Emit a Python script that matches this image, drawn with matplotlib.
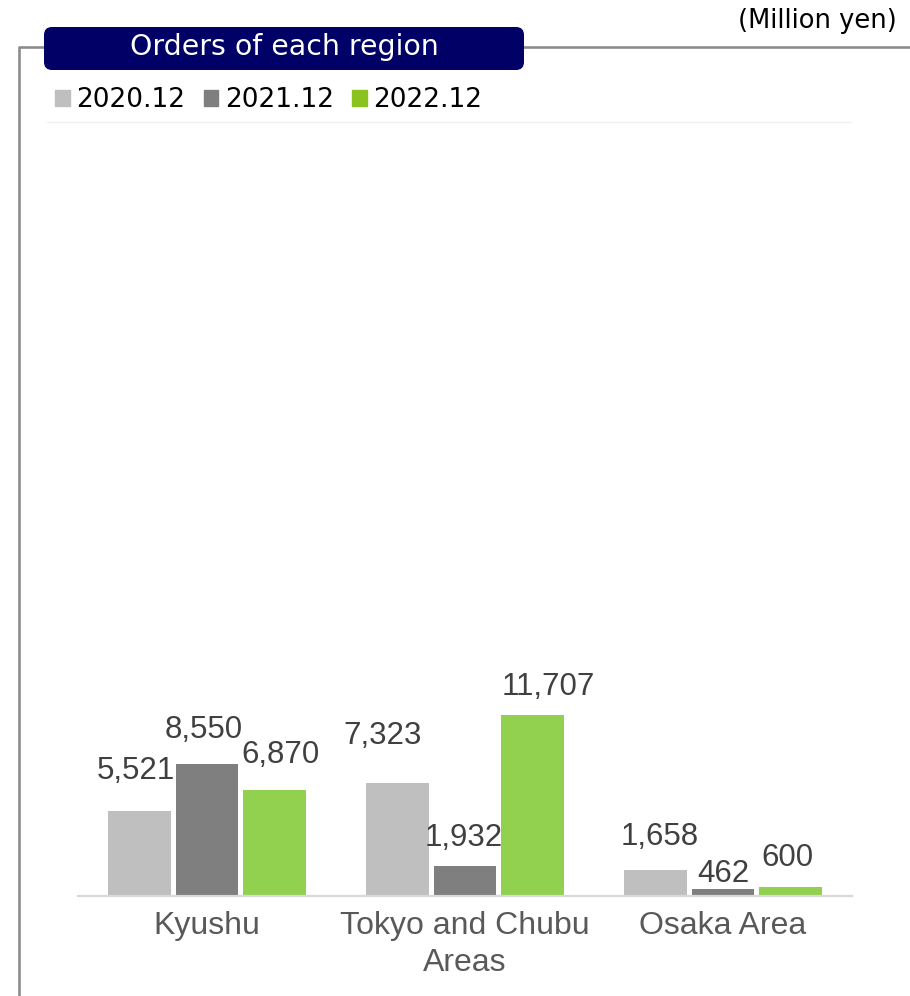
import numpy as np
import matplotlib
matplotlib.use('Agg')
import matplotlib.pyplot as plt
from matplotlib.patches import FancyBboxPatch, Rectangle
from matplotlib.lines import Line2D

regions = ['Kyushu', 'Tokyo and Chubu\nAreas', 'Osaka Area']
periods = ['2020.12', '2021.12', '2022.12']
orders_2020 = [5521, 7323, 1658]
orders_2021 = [8550, 1932, 462]
orders_2022 = [6870, 11707, 600]

colors = ['#bfbfbf', '#7f7f7f', '#92d050']
legend_colors = ['#bfbfbf', '#7f7f7f', '#8cc21f']

# label nudges (dx, dy) in pixels, to mimic the hand-placed labels
nudges = [[(-4, 32), (-3, 26), (6, 27)],
          [(-15, 39), (-1, 20), (16, 20)],
          [(4, 25), (0, 7), (-3, 21)]]

W, H = 910, 996
fig = plt.figure(figsize=(W / 100, H / 100), dpi=100)
ax = fig.add_axes([78 / W, 1 - 896 / H, (852 - 78) / W, (896 - 122) / H])

x = np.arange(len(regions))
step = 0.26
width = 0.244
series = [orders_2020, orders_2021, orders_2022]
for i, vals in enumerate(series):
    xs = x + (i - 1) * step
    ax.bar(xs, vals, width=width, color=colors[i], zorder=2)
    for j, v in enumerate(vals):
        dx, dy = nudges[j][i]
        ax.annotate(f'{v:,}', (xs[j], v), xytext=(dx * 0.72, dy * 0.72),
                    textcoords='offset points', ha='center', va='baseline',
                    fontsize=22.5, color='#404040', family='Liberation Sans')

ax.set_xlim(-0.5, 2.5)
ax.set_ylim(0, 50000)
ax.set_yticks([])
ax.set_xticks(x)
ax.set_xticklabels(regions, fontsize=23, color='#595959', family='Liberation Sans',
                   linespacing=1.3)
ax.tick_params(axis='x', length=0, pad=11)
for s in ['top', 'left', 'right']:
    ax.spines[s].set_visible(False)
ax.spines['bottom'].set_color('#d9d9d9')
ax.spines['bottom'].set_linewidth(1.6)

# outer frame line (top and left)
fig.add_artist(Line2D([1.0, 19 / W, 19 / W], [1 - 47 / H, 1 - 47 / H, 0],
                      transform=fig.transFigure, color='#8c8c8c', lw=1.9))
# faint separator under the legend
fig.add_artist(Line2D([47 / W, 851 / W], [1 - 122 / H, 1 - 122 / H],
                      transform=fig.transFigure, color='#f0f0f0', lw=1.0))

# title box
box = FancyBboxPatch((0.44, (H - 70) / 100), 4.80, 0.43,
                     boxstyle='round,pad=0,rounding_size=0.08',
                     transform=fig.dpi_scale_trans, facecolor='#000066',
                     edgecolor='none', zorder=5)
fig.add_artist(box)
fig.text(284 / W, 1 - 47 / H, 'Orders of each region', ha='center', va='center',
         fontsize=20.4, color='white', family='DejaVu Sans', zorder=6)

fig.text(897 / W, 1 - 21 / H, '(Million yen)', ha='right', va='center',
         fontsize=18.5, color='black', family='DejaVu Sans')

handles = [Rectangle((0, 0), 1, 1, color=c) for c in legend_colors]
fig.legend(handles, periods, loc='center left', bbox_to_anchor=(55 / W, 1 - 100 / H),
           bbox_transform=fig.transFigure, ncol=3, frameon=False,
           prop={'family': 'DejaVu Sans', 'size': 19},
           handlelength=0.55, handleheight=0.55, handletextpad=0.25,
           columnspacing=0.7, borderpad=0, borderaxespad=0)

plt.savefig('out.png', dpi=100)
